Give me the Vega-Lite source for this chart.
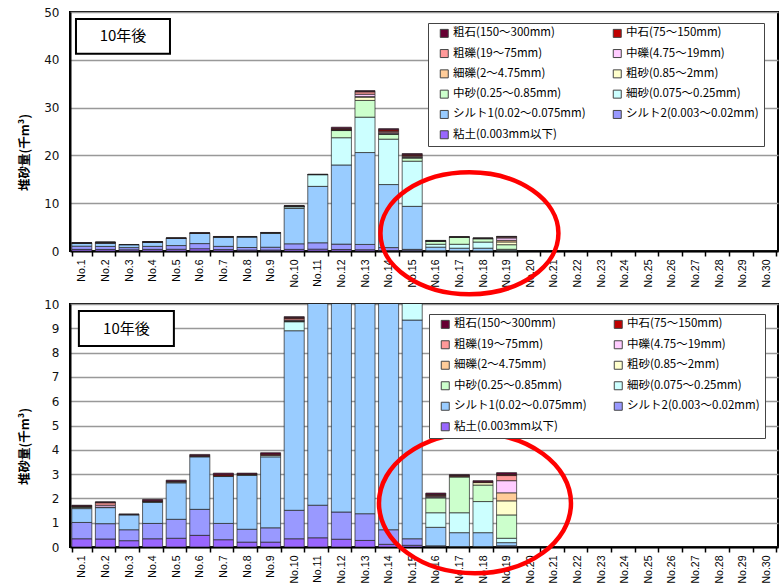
{
 "$schema": "https://vega.github.io/schema/vega-lite/v6.json",
 "padding": {"left": 17, "top": 5, "right": 0, "bottom": 0},
 "background": "white",
 "datasets": {
  "types": [
   {"t":"粘土(0.003mm以下)","k":1},{"t":"シルト2(0.003～0.02mm)","k":2},{"t":"シルト1(0.02～0.075mm)","k":3},{"t":"細砂(0.075～0.25mm)","k":4},{"t":"中砂(0.25～0.85mm)","k":5},{"t":"粗砂(0.85～2mm)","k":6},{"t":"細礫(2～4.75mm)","k":7},{"t":"中礫(4.75～19mm)","k":8},{"t":"粗礫(19～75mm)","k":9},{"t":"中石(75～150mm)","k":10},{"t":"粗石(150～300mm)","k":11}
  ],
  "sed": [
   {"n":"No.1","t":"粘土(0.003mm以下)","v":0.34},{"n":"No.1","t":"シルト2(0.003～0.02mm)","v":0.67},{"n":"No.1","t":"シルト1(0.02～0.075mm)","v":0.57},{"n":"No.1","t":"細砂(0.075～0.25mm)","v":0.05},{"n":"No.1","t":"中砂(0.25～0.85mm)","v":0.02},{"n":"No.1","t":"粗礫(19～75mm)","v":0.02},{"n":"No.1","t":"中石(75～150mm)","v":0.02},{"n":"No.1","t":"粗石(150～300mm)","v":0.03},
   {"n":"No.2","t":"粘土(0.003mm以下)","v":0.33},{"n":"No.2","t":"シルト2(0.003～0.02mm)","v":0.63},{"n":"No.2","t":"シルト1(0.02～0.075mm)","v":0.66},{"n":"No.2","t":"細砂(0.075～0.25mm)","v":0.02},{"n":"No.2","t":"中礫(4.75～19mm)","v":0.08},{"n":"No.2","t":"粗礫(19～75mm)","v":0.1},{"n":"No.2","t":"中石(75～150mm)","v":0.02},{"n":"No.2","t":"粗石(150～300mm)","v":0.02},
   {"n":"No.3","t":"粘土(0.003mm以下)","v":0.26},{"n":"No.3","t":"シルト2(0.003～0.02mm)","v":0.45},{"n":"No.3","t":"シルト1(0.02～0.075mm)","v":0.61},{"n":"No.3","t":"細砂(0.075～0.25mm)","v":0.02},{"n":"No.3","t":"粗石(150～300mm)","v":0.02},
   {"n":"No.4","t":"粘土(0.003mm以下)","v":0.34},{"n":"No.4","t":"シルト2(0.003～0.02mm)","v":0.63},{"n":"No.4","t":"シルト1(0.02～0.075mm)","v":0.87},{"n":"No.4","t":"細砂(0.075～0.25mm)","v":0.02},{"n":"No.4","t":"中砂(0.25～0.85mm)","v":0.01},{"n":"No.4","t":"中石(75～150mm)","v":0.03},{"n":"No.4","t":"粗石(150～300mm)","v":0.06},
   {"n":"No.5","t":"粘土(0.003mm以下)","v":0.36},{"n":"No.5","t":"シルト2(0.003～0.02mm)","v":0.78},{"n":"No.5","t":"シルト1(0.02～0.075mm)","v":1.5},{"n":"No.5","t":"細砂(0.075～0.25mm)","v":0.03},{"n":"No.5","t":"中石(75～150mm)","v":0.03},{"n":"No.5","t":"粗石(150～300mm)","v":0.05},
   {"n":"No.6","t":"粘土(0.003mm以下)","v":0.48},{"n":"No.6","t":"シルト2(0.003～0.02mm)","v":1.07},{"n":"No.6","t":"シルト1(0.02～0.075mm)","v":2.16},{"n":"No.6","t":"細砂(0.075～0.25mm)","v":0.02},{"n":"No.6","t":"中石(75～150mm)","v":0.03},{"n":"No.6","t":"粗石(150～300mm)","v":0.05},
   {"n":"No.7","t":"粘土(0.003mm以下)","v":0.3},{"n":"No.7","t":"シルト2(0.003～0.02mm)","v":0.67},{"n":"No.7","t":"シルト1(0.02～0.075mm)","v":1.93},{"n":"No.7","t":"細砂(0.075～0.25mm)","v":0.02},{"n":"No.7","t":"中石(75～150mm)","v":0.05},{"n":"No.7","t":"粗石(150～300mm)","v":0.07},
   {"n":"No.8","t":"粘土(0.003mm以下)","v":0.2},{"n":"No.8","t":"シルト2(0.003～0.02mm)","v":0.53},{"n":"No.8","t":"シルト1(0.02～0.075mm)","v":2.22},{"n":"No.8","t":"細砂(0.075～0.25mm)","v":0.02},{"n":"No.8","t":"中石(75～150mm)","v":0.03},{"n":"No.8","t":"粗石(150～300mm)","v":0.04},
   {"n":"No.9","t":"粘土(0.003mm以下)","v":0.2},{"n":"No.9","t":"シルト2(0.003～0.02mm)","v":0.59},{"n":"No.9","t":"シルト1(0.02～0.075mm)","v":2.92},{"n":"No.9","t":"細砂(0.075～0.25mm)","v":0.06},{"n":"No.9","t":"中石(75～150mm)","v":0.05},{"n":"No.9","t":"粗石(150～300mm)","v":0.06},
   {"n":"No.10","t":"粘土(0.003mm以下)","v":0.34},{"n":"No.10","t":"シルト2(0.003～0.02mm)","v":1.17},{"n":"No.10","t":"シルト1(0.02～0.075mm)","v":7.39},{"n":"No.10","t":"細砂(0.075～0.25mm)","v":0.37},{"n":"No.10","t":"中砂(0.25～0.85mm)","v":0.02},{"n":"No.10","t":"粗砂(0.85～2mm)","v":0.01},{"n":"No.10","t":"細礫(2～4.75mm)","v":0.01},{"n":"No.10","t":"中礫(4.75～19mm)","v":0.03},{"n":"No.10","t":"粗礫(19～75mm)","v":0.06},{"n":"No.10","t":"中石(75～150mm)","v":0.04},{"n":"No.10","t":"粗石(150～300mm)","v":0.04},
   {"n":"No.11","t":"粘土(0.003mm以下)","v":0.38},{"n":"No.11","t":"シルト2(0.003～0.02mm)","v":1.34},{"n":"No.11","t":"シルト1(0.02～0.075mm)","v":11.8},{"n":"No.11","t":"細砂(0.075～0.25mm)","v":2.45},{"n":"No.11","t":"中砂(0.25～0.85mm)","v":0.02},{"n":"No.11","t":"中石(75～150mm)","v":0.02},{"n":"No.11","t":"粗石(150～300mm)","v":0.05},
   {"n":"No.12","t":"粘土(0.003mm以下)","v":0.32},{"n":"No.12","t":"シルト2(0.003～0.02mm)","v":1.12},{"n":"No.12","t":"シルト1(0.02～0.075mm)","v":16.56},{"n":"No.12","t":"細砂(0.075～0.25mm)","v":5.7},{"n":"No.12","t":"中砂(0.25～0.85mm)","v":1.5},{"n":"No.12","t":"粗砂(0.85～2mm)","v":0.05},{"n":"No.12","t":"細礫(2～4.75mm)","v":0.02},{"n":"No.12","t":"中礫(4.75～19mm)","v":0.05},{"n":"No.12","t":"粗礫(19～75mm)","v":0.08},{"n":"No.12","t":"中石(75～150mm)","v":0.2},{"n":"No.12","t":"粗石(150～300mm)","v":0.3},
   {"n":"No.13","t":"粘土(0.003mm以下)","v":0.27},{"n":"No.13","t":"シルト2(0.003～0.02mm)","v":1.1},{"n":"No.13","t":"シルト1(0.02～0.075mm)","v":19.23},{"n":"No.13","t":"細砂(0.075～0.25mm)","v":7.4},{"n":"No.13","t":"中砂(0.25～0.85mm)","v":3.5},{"n":"No.13","t":"粗砂(0.85～2mm)","v":0.7},{"n":"No.13","t":"細礫(2～4.75mm)","v":0.1},{"n":"No.13","t":"中礫(4.75～19mm)","v":0.5},{"n":"No.13","t":"粗礫(19～75mm)","v":0.5},{"n":"No.13","t":"中石(75～150mm)","v":0.1},{"n":"No.13","t":"粗石(150～300mm)","v":0.15},
   {"n":"No.14","t":"粘土(0.003mm以下)","v":0.11},{"n":"No.14","t":"シルト2(0.003～0.02mm)","v":0.6},{"n":"No.14","t":"シルト1(0.02～0.075mm)","v":13.19},{"n":"No.14","t":"細砂(0.075～0.25mm)","v":9.5},{"n":"No.14","t":"中砂(0.25～0.85mm)","v":1.0},{"n":"No.14","t":"粗砂(0.85～2mm)","v":0.1},{"n":"No.14","t":"細礫(2～4.75mm)","v":0.05},{"n":"No.14","t":"中礫(4.75～19mm)","v":0.2},{"n":"No.14","t":"粗礫(19～75mm)","v":0.3},{"n":"No.14","t":"中石(75～150mm)","v":0.3},{"n":"No.14","t":"粗石(150～300mm)","v":0.25},
   {"n":"No.15","t":"粘土(0.003mm以下)","v":0.07},{"n":"No.15","t":"シルト2(0.003～0.02mm)","v":0.27},{"n":"No.15","t":"シルト1(0.02～0.075mm)","v":9.0},{"n":"No.15","t":"細砂(0.075～0.25mm)","v":9.45},{"n":"No.15","t":"中砂(0.25～0.85mm)","v":0.65},{"n":"No.15","t":"粗砂(0.85～2mm)","v":0.1},{"n":"No.15","t":"細礫(2～4.75mm)","v":0.05},{"n":"No.15","t":"中礫(4.75～19mm)","v":0.15},{"n":"No.15","t":"粗礫(19～75mm)","v":0.2},{"n":"No.15","t":"中石(75～150mm)","v":0.2},{"n":"No.15","t":"粗石(150～300mm)","v":0.25},
   {"n":"No.16","t":"粘土(0.003mm以下)","v":0.02},{"n":"No.16","t":"シルト2(0.003～0.02mm)","v":0.03},{"n":"No.16","t":"シルト1(0.02～0.075mm)","v":0.76},{"n":"No.16","t":"細砂(0.075～0.25mm)","v":0.6},{"n":"No.16","t":"中砂(0.25～0.85mm)","v":0.61},{"n":"No.16","t":"粗砂(0.85～2mm)","v":0.02},{"n":"No.16","t":"中礫(4.75～19mm)","v":0.04},{"n":"No.16","t":"粗礫(19～75mm)","v":0.04},{"n":"No.16","t":"中石(75～150mm)","v":0.04},{"n":"No.16","t":"粗石(150～300mm)","v":0.06},
   {"n":"No.17","t":"シルト2(0.003～0.02mm)","v":0.02},{"n":"No.17","t":"シルト1(0.02～0.075mm)","v":0.57},{"n":"No.17","t":"細砂(0.075～0.25mm)","v":0.82},{"n":"No.17","t":"中砂(0.25～0.85mm)","v":1.47},{"n":"No.17","t":"粗砂(0.85～2mm)","v":0.03},{"n":"No.17","t":"中石(75～150mm)","v":0.03},{"n":"No.17","t":"粗石(150～300mm)","v":0.04},
   {"n":"No.18","t":"シルト2(0.003～0.02mm)","v":0.02},{"n":"No.18","t":"シルト1(0.02～0.075mm)","v":0.57},{"n":"No.18","t":"細砂(0.075～0.25mm)","v":1.28},{"n":"No.18","t":"中砂(0.25～0.85mm)","v":0.68},{"n":"No.18","t":"粗砂(0.85～2mm)","v":0.1},{"n":"No.18","t":"中石(75～150mm)","v":0.03},{"n":"No.18","t":"粗石(150～300mm)","v":0.05},
   {"n":"No.19","t":"粘土(0.003mm以下)","v":0.02},{"n":"No.19","t":"シルト2(0.003～0.02mm)","v":0.03},{"n":"No.19","t":"シルト1(0.02～0.075mm)","v":0.13},{"n":"No.19","t":"細砂(0.075～0.25mm)","v":0.18},{"n":"No.19","t":"中砂(0.25～0.85mm)","v":0.96},{"n":"No.19","t":"粗砂(0.85～2mm)","v":0.58},{"n":"No.19","t":"細礫(2～4.75mm)","v":0.33},{"n":"No.19","t":"中礫(4.75～19mm)","v":0.5},{"n":"No.19","t":"粗礫(19～75mm)","v":0.21},{"n":"No.19","t":"中石(75～150mm)","v":0.05},{"n":"No.19","t":"粗石(150～300mm)","v":0.07}
  ]
 },
 "config": {
  "view": {"stroke": "#000", "strokeWidth": 2},
  "font": "Noto Sans CJK JP",
  "axisX": {"labelAngle": -90, "labelFont": "Liberation Sans", "labelFontSize": 10.5, "labelColor": "#000", "tickBand": "extent", "tickSize": 5, "tickColor": "#000", "tickWidth": 1.5, "domainColor": "#000", "domainWidth": 2, "labelPadding": 3, "grid": false, "labelOverlap": false},
  "axisY": {"labelFont": "DejaVu Sans", "labelFontSize": 12, "labelColor": "#111", "ticks": false, "labelPadding": 11, "labelOverlap": false, "domainColor": "#000", "domainWidth": 2, "gridColor": "#999", "gridWidth": 1.5, "titleFont": "Noto Sans CJK JP", "titleFontSize": 12.5, "titleFontWeight": "bold", "titleColor": "#000", "titlePadding": 12},
  "legend": {"strokeWidth": 1}
 },
 "bounds": "flush",
 "spacing": 53,
 "resolve": {"scale": {"y": "independent", "x": "shared", "color": "shared"}, "legend": {"color": "independent"}},
 "vconcat": [
  {
   "width": 708, "height": 239,
   "layer": [
    {
     "data": {"name": "sed"},
     "transform": [{"lookup": "t", "from": {"data": {"name": "types"}, "key": "t", "fields": ["k"]}}],
     "mark": {"type": "bar", "stroke": "#222", "strokeWidth": 0.7},
     "encoding": {
      "x": {"field": "n", "type": "nominal", "title": null, "scale": {"domain": ["No.1","No.2","No.3","No.4","No.5","No.6","No.7","No.8","No.9","No.10","No.11","No.12","No.13","No.14","No.15","No.16","No.17","No.18","No.19","No.20","No.21","No.22","No.23","No.24","No.25","No.26","No.27","No.28","No.29","No.30"], "paddingInner": 0.15, "paddingOuter": 0.075}},
      "y": {"field": "v", "type": "quantitative", "stack": "zero", "title": "堆砂量(千m³)", "scale": {"domain": [0, 50], "nice": false}, "axis": {"values": [0,10,20,30,40,50], "titleY": 140}},
      "order": {"field": "k", "type": "quantitative", "sort": "ascending"},
      "color": {"field": "t", "type": "nominal", "sort": ["粗石(150～300mm)","中石(75～150mm)","粗礫(19～75mm)","中礫(4.75～19mm)","細礫(2～4.75mm)","粗砂(0.85～2mm)","中砂(0.25～0.85mm)","細砂(0.075～0.25mm)","シルト1(0.02～0.075mm)","シルト2(0.003～0.02mm)","粘土(0.003mm以下)"],
        "scale": {"range": ["#660033","#C00000","#FF9999","#FFCCFF","#FFCC99","#FFFFCC","#CCFFCC","#CCFFFF","#99CCFF","#9999FF","#9966FF"]},
        "legend": {"orient": "none", "direction": "horizontal", "legendX": 358, "legendY": 11, "columns": 2, "title": " ", "titleOrient": "left", "titlePadding": 6, "titleFontSize": 11, "symbolType": "square", "symbolSize": 64, "symbolStrokeColor": "#444", "symbolStrokeWidth": 1, "labelFontSize": 11.5, "labelFont": "Noto Sans CJK JP", "labelColor": "#000", "strokeColor": "#444", "fillColor": "white", "padding": 4.5, "rowPadding": 7.3, "columnPadding": 24, "labelOffset": 3, "labelLimit": 300}}
     }
    },
    {
     "data": {"values": [{}]},
     "mark": {"type": "point", "shape": "M -1 -0.372 L 1 -0.372 L 1 0.372 L -1 0.372 Z", "size": 8836, "fill": "white", "stroke": "#000", "strokeWidth": 2, "opacity": 1, "fillOpacity": 1},
     "encoding": {"x": {"datum": "No.3", "bandPosition": 0.2}, "y": {"datum": 44.9, "axis": {"values": [0,10,20,30,40,50], "titleY": 140}}}
    },
    {
     "data": {"values": [{}]},
     "mark": {"type": "text", "text": "10年後", "fontSize": 15, "font": "Noto Sans CJK JP", "color": "#000"},
     "encoding": {"x": {"datum": "No.3", "bandPosition": 0.2}, "y": {"datum": 44.9, "axis": {"values": [0,10,20,30,40,50], "titleY": 140}}}
    },
    {
     "data": {"values": [{}]},
     "mark": {"type": "point", "shape": "M 1 0 C 1 0.378 0.552 0.685 0 0.685 C -0.552 0.685 -1 0.378 -1 0 C -1 -0.378 -0.552 -0.685 0 -0.685 C 0.552 -0.685 1 -0.378 1 0 Z", "size": 31684, "filled": false, "stroke": "#FF0000", "strokeWidth": 4.5, "opacity": 1},
     "encoding": {"x": {"datum": "No.17", "bandPosition": 1}, "y": {"datum": 3.7, "axis": {"values": [0,10,20,30,40,50], "titleY": 140}}}
    }
   ]
  },
  {
   "width": 708, "height": 243,
   "layer": [
    {
     "data": {"name": "sed"},
     "transform": [{"lookup": "t", "from": {"data": {"name": "types"}, "key": "t", "fields": ["k"]}}],
     "mark": {"type": "bar", "stroke": "#222", "strokeWidth": 0.7, "clip": true},
     "encoding": {
      "x": {"field": "n", "type": "nominal", "title": null, "scale": {"domain": ["No.1","No.2","No.3","No.4","No.5","No.6","No.7","No.8","No.9","No.10","No.11","No.12","No.13","No.14","No.15","No.16","No.17","No.18","No.19","No.20","No.21","No.22","No.23","No.24","No.25","No.26","No.27","No.28","No.29","No.30"], "paddingInner": 0.15, "paddingOuter": 0.075}},
      "y": {"field": "v", "type": "quantitative", "stack": "zero", "title": "堆砂量(千m³)", "scale": {"domain": [0, 10], "nice": false}, "axis": {"values": [0,1,2,3,4,5,6,7,8,9,10], "titleY": 142}},
      "order": {"field": "k", "type": "quantitative", "sort": "ascending"},
      "color": {"field": "t", "type": "nominal", "sort": ["粗石(150～300mm)","中石(75～150mm)","粗礫(19～75mm)","中礫(4.75～19mm)","細礫(2～4.75mm)","粗砂(0.85～2mm)","中砂(0.25～0.85mm)","細砂(0.075～0.25mm)","シルト1(0.02～0.075mm)","シルト2(0.003～0.02mm)","粘土(0.003mm以下)"],
        "scale": {"range": ["#660033","#C00000","#FF9999","#FFCCFF","#FFCC99","#FFFFCC","#CCFFCC","#CCFFFF","#99CCFF","#9999FF","#9966FF"]},
        "legend": {"orient": "none", "direction": "horizontal", "legendX": 359, "legendY": 10, "columns": 2, "title": " ", "titleOrient": "left", "titlePadding": 6, "titleFontSize": 11, "symbolType": "square", "symbolSize": 64, "symbolStrokeColor": "#444", "symbolStrokeWidth": 1, "labelFontSize": 11.5, "labelFont": "Noto Sans CJK JP", "labelColor": "#000", "strokeColor": "#444", "fillColor": "white", "padding": 4.5, "rowPadding": 7.5, "columnPadding": 24, "labelOffset": 3, "labelLimit": 300}}
     }
    },
    {
     "data": {"values": [{}]},
     "mark": {"type": "point", "shape": "M -1 -0.368 L 1 -0.368 L 1 0.368 L -1 0.368 Z", "size": 9025, "fill": "white", "stroke": "#000", "strokeWidth": 2, "opacity": 1, "fillOpacity": 1},
     "encoding": {"x": {"datum": "No.3", "bandPosition": 0.37}, "y": {"datum": 8.99, "axis": {"values": [0,1,2,3,4,5,6,7,8,9,10], "titleY": 142}}}
    },
    {
     "data": {"values": [{}]},
     "mark": {"type": "text", "text": "10年後", "fontSize": 15, "font": "Noto Sans CJK JP", "color": "#000"},
     "encoding": {"x": {"datum": "No.3", "bandPosition": 0.37}, "y": {"datum": 8.99, "axis": {"values": [0,1,2,3,4,5,6,7,8,9,10], "titleY": 142}}}
    },
    {
     "data": {"values": [{}]},
     "mark": {"type": "point", "shape": "M 1 0 C 1 0.403 0.552 0.729 0 0.729 C -0.552 0.729 -1 0.403 -1 0 C -1 -0.403 -0.552 -0.729 0 -0.729 C 0.552 -0.729 1 -0.403 1 0 Z", "size": 36864, "filled": false, "stroke": "#FF0000", "strokeWidth": 4.5, "opacity": 1},
     "encoding": {"x": {"datum": "No.18", "bandPosition": 0.1}, "y": {"datum": 1.8, "axis": {"values": [0,1,2,3,4,5,6,7,8,9,10], "titleY": 142}}}
    }
   ]
  }
 ]
}
